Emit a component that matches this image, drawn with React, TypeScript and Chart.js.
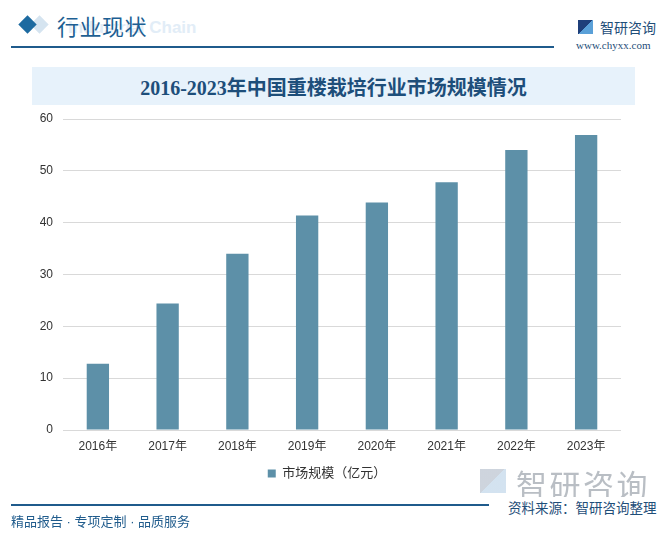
import React, { useEffect, useRef } from "react";
import { Chart, registerables } from "chart.js";

Chart.register(...registerables);

const years = ["2016年", "2017年", "2018年", "2019年", "2020年", "2021年", "2022年", "2023年"];
const marketSize = [12.8, 24.4, 34.0, 41.4, 43.9, 47.8, 54.0, 56.9];
const seriesName = "市场规模（亿元）";
const chartTitle = "2016-2023年中国重楼栽培行业市场规模情况";
const yMin = 0;
const yMax = 60;
const yStep = 10;

const BAR = "#5d90a8";
const DARK = "#1f5b8c";
const SANS = '"Liberation Sans", "Noto Sans CJK SC", sans-serif';

export default function App() {
  const ref = useRef<HTMLCanvasElement | null>(null);

  useEffect(() => {
    if (!ref.current) return;
    const chart = new Chart(ref.current, {
      type: "bar",
      data: {
        labels: years,
        datasets: [
          {
            label: seriesName,
            data: marketSize,
            backgroundColor: BAR,
            borderWidth: 0,
            categoryPercentage: 1,
            barPercentage: 0.32,
          },
        ],
      },
      options: {
        animation: false,
        responsive: false,
        maintainAspectRatio: false,
        layout: { padding: { left: 33, right: 45, top: 119, bottom: 43 } },
        plugins: {
          title: { display: false },
          tooltip: { enabled: false },
          legend: {
            display: true,
            position: "bottom",
            labels: {
              boxWidth: 8,
              boxHeight: 8,
              color: "#333",
              font: { size: 13, family: SANS },
              padding: 6,
            },
          },
        },
        scales: {
          x: {
            grid: { display: false, tickLength: 0 },
            border: { display: false },
            ticks: {
              color: "#333",
              font: { size: 12, family: SANS },
              padding: 9,
              maxRotation: 0,
            },
            afterFit: (s: any) => {
              s.height = 31;
            },
          },
          y: {
            min: yMin,
            max: yMax,
            ticks: {
              stepSize: yStep,
              color: "#333",
              font: { size: 12, family: SANS },
              padding: 10,
            },
            grid: { color: "#d9d9d9", lineWidth: 1, drawTicks: false },
            border: { display: false },
            afterFit: (s: any) => {
              s.width = 30;
            },
          },
        },
      },
    });
    return () => chart.destroy();
  }, []);

  return (
    <div
      style={{
        position: "absolute",
        left: 0,
        top: 0,
        width: 666,
        height: 533,
        background: "#fff",
        overflow: "hidden",
        fontFamily: SANS,
      }}
    >
      {/* header */}
      <div style={{ position: "absolute", left: 33, top: 18, width: 13, height: 13, background: "#d5e4f0", transform: "rotate(45deg)" }} />
      <div style={{ position: "absolute", left: 21, top: 18, width: 13, height: 13, background: "#1d6aa0", transform: "rotate(45deg)" }} />
      <div style={{ position: "absolute", left: 68, top: 18, fontSize: 17, fontWeight: 700, color: "#e2edf7", whiteSpace: "nowrap" }}>Industrial Chain</div>
      <div style={{ position: "absolute", left: 57, top: 9, fontSize: 22, color: "#1d5f93", whiteSpace: "nowrap", letterSpacing: 0.5 }}>行业现状</div>
      <div style={{ position: "absolute", left: 11, top: 46, width: 543, height: 2, background: DARK }} />
      <div style={{ position: "absolute", left: 578, top: 20, width: 15, height: 14, background: "linear-gradient(135deg,#1f3f7a 0 50%,#5aa0d8 50% 100%)" }} />
      <div style={{ position: "absolute", left: 600, top: 17, fontSize: 14, color: "#1f4e79", whiteSpace: "nowrap" }}>智研咨询</div>
      <div style={{ position: "absolute", left: 576, top: 39, fontSize: 11, color: "#1f4e79", fontFamily: '"Liberation Serif", serif', whiteSpace: "nowrap" }}>www.chyxx.com</div>

      {/* title band */}
      <div
        style={{
          position: "absolute",
          left: 32,
          top: 67,
          width: 603,
          height: 38,
          background: "#e7f2fb",
          display: "flex",
          alignItems: "center",
          justifyContent: "center",
          fontSize: 20,
          fontWeight: 700,
          color: "#1d4e7a",
          fontFamily: '"Liberation Serif", "Noto Sans CJK SC", serif',
          whiteSpace: "nowrap",
        }}
      >
        {chartTitle}
      </div>

      <canvas ref={ref} width={666} height={533} style={{ position: "absolute", left: 0, top: 0, width: 666, height: 533 }} />

      {/* footer */}
      <div style={{ position: "absolute", left: 480, top: 469, width: 26, height: 24, background: "linear-gradient(135deg,#c9d0da 0 50%,#cfe0ef 50% 100%)", opacity: 0.9 }} />
      <div style={{ position: "absolute", left: 516, top: 461, fontSize: 31, color: "#b9bec4", whiteSpace: "nowrap", letterSpacing: 2.5 }}>智研咨询</div>
      <div style={{ position: "absolute", left: 11, top: 504, width: 478, height: 2, background: DARK }} />
      <div style={{ position: "absolute", left: 508, top: 497, fontSize: 13.5, color: "#1f4e79", whiteSpace: "nowrap", background: "#fff" }}>资料来源：智研咨询整理</div>
      <div style={{ position: "absolute", left: 11, top: 511, fontSize: 13, color: DARK, whiteSpace: "nowrap" }}>精品报告 · 专项定制 · 品质服务</div>
    </div>
  );
}
